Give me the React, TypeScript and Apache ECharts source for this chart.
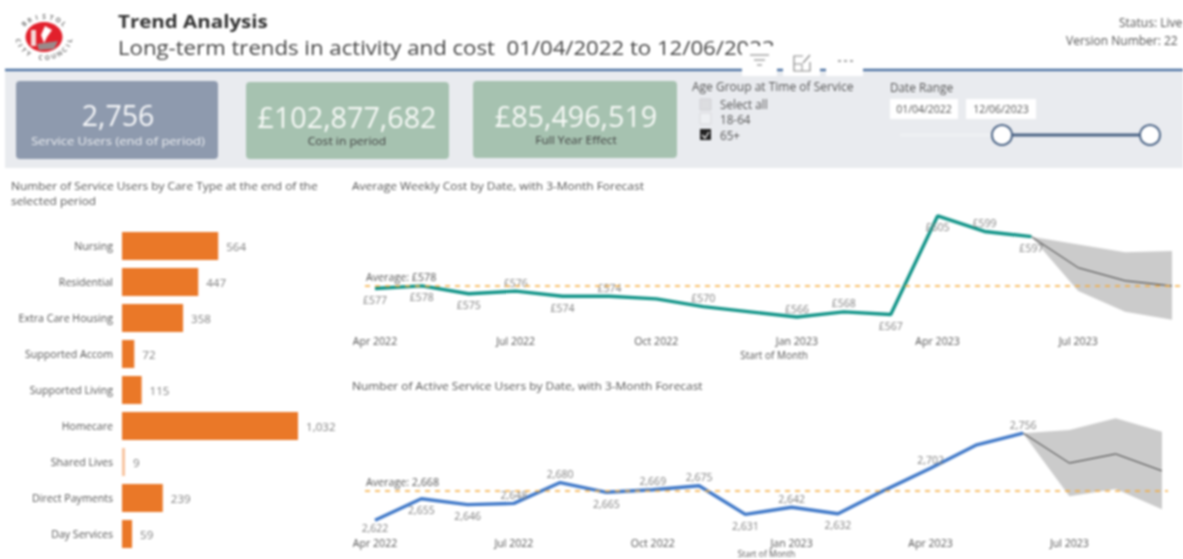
import React, { useEffect, useRef } from "react";
import * as echarts from "echarts";

const FONT = "'Open Sans', sans-serif";

const careTypes = ["Nursing", "Residential", "Extra Care Housing", "Supported Accom", "Supported Living", "Homecare", "Shared Lives", "Direct Payments", "Day Services"];
const careUsers = [564, 447, 358, 72, 115, 1032, 9, 239, 59];

const months = ["Apr 2022", "May 2022", "Jun 2022", "Jul 2022", "Aug 2022", "Sep 2022", "Oct 2022", "Nov 2022", "Dec 2022", "Jan 2023", "Feb 2023", "Mar 2023", "Apr 2023", "May 2023", "Jun 2023", "Jul 2023", "Aug 2023", "Sep 2023"];
const monthTicks = [0, 3, 6, 9, 12, 15];
const forecastMonths = [14, 15, 16, 17];

const weeklyCost = [577, 578, 575, 576, 574, 574, 573, 570, 568, 566, 568, 567, 605, 599, 597];
const weeklyCostLabelled = [1, 1, 1, 1, 1, 1, 0, 1, 0, 1, 1, 1, 1, 1, 1];
const weeklyCostSide = ["b", "b", "b", "t", "b", "t", "t", "t", "t", "t", "t", "b", "b", "t", "b"];
const costForecast = [597, 585, 580, 578];
const costUpper = [597, 594, 591, 591.5];
const costLower = [597, 576, 568, 565];
const costAverage = 578;

const activeUsers = [2622, 2655, 2646, 2648, 2680, 2665, 2669, 2675, 2631, 2642, 2632, 2668, 2702, 2738, 2756];
const activeUsersLabelled = [1, 1, 1, 1, 1, 1, 1, 1, 1, 1, 1, 0, 1, 0, 1];
const activeUsersSide = ["n", "b", "b", "t", "t", "b", "t", "t", "b", "t", "b", "t", "t", "t", "t"];
const usersForecast = [2756, 2710, 2724, 2698];
const usersUpper = [2756, 2761, 2779, 2758];
const usersLower = [2756, 2659, 2670, 2639];
const usersAverage = 2668;

const gbp = (v: number) => "£" + Math.round(v);
const num = (v: number) => Math.round(v).toLocaleString("en-GB");

function txt(x: number, y: number, text: string, size: number, fill: string, extra: any = {}, sx = 1) {
  return {
    type: "text", x, y, z: 5, scaleX: sx,
    style: { text, fontSize: size, fill, fontFamily: FONT, verticalAlign: "middle", ...extra },
  };
}
function box(x: number, y: number, w: number, h: number, fill: string, extra: any = {}) {
  return { type: "rect", z: 5, shape: { x, y, width: w, height: h, r: extra.r || 0 }, style: { fill, stroke: extra.stroke, lineWidth: extra.lineWidth || 0 } };
}
function seg(x1: number, y1: number, x2: number, y2: number, stroke: string, lineWidth = 1, z = 6) {
  return { type: "line", z, shape: { x1, y1, x2, y2 }, style: { stroke, lineWidth } };
}

function logo() {
  const cx = 44, cy = 37, out: any[] = [];
  const ring = (word: string, start: number, end: number, bottom: boolean) => {
    word.split("").forEach((ch, i) => {
      const a = start + ((end - start) * i) / (word.length - 1);
      const rad = (a * Math.PI) / 180;
      out.push({
        type: "text", z: 6, x: cx + 26 * Math.cos(rad), y: cy + 20.5 * Math.sin(rad),
        rotation: bottom ? -((a - 90) * Math.PI) / 180 : -((a + 90) * Math.PI) / 180,
        style: { text: ch, fontSize: 6.5, fontWeight: 700, fill: "#777", fontFamily: FONT, align: "center", verticalAlign: "middle" },
      });
    });
  };
  ring("BRISTOL", -140, -40, false);
  ring("CITY COUNCIL", 170, 10, true);
  out.push({ type: "ellipse", z: 6, shape: { cx, cy, rx: 18.5, ry: 15 }, style: { fill: "#e2202c" } });
  out.push({ type: "polygon", z: 7, shape: { points: [[45, 26], [52, 30], [47, 37], [44, 43], [41, 35]] }, style: { fill: "#fff" } });
  out.push({ type: "rect", z: 7, shape: { x: 31, y: 30, width: 5, height: 16 }, style: { fill: "#f6d8d8" } });
  out.push({ type: "polygon", z: 7, shape: { points: [[37, 44], [58, 41], [54, 49], [39, 50]] }, style: { fill: "#9a8a8a" } });
  return out;
}

function chrome() {
  return [
    ...logo(),
    txt(118, 21, "Trend Analysis", 18, "#333", { fontWeight: 700 }, 1.14),
    txt(118, 47, "Long-term trends in activity and cost  01/04/2022 to 12/06/2023", 20, "#444", {}, 1.11),
    txt(1119, 22, "Status: Live", 12, "#555"),
    txt(1066, 40, "Version Number: 22", 12, "#555"),

    seg(5, 70, 1183, 70, "#4a6fa0", 2.5, 5),
    box(5, 72, 1178, 96, "#e9ebef"),

    box(742, 46, 35, 30, "#fff"),
    box(783, 46, 37, 30, "#fff"),
    box(826, 46, 37, 30, "#fff"),
    box(777, 46, 6, 22, "#fff"),
    box(820, 46, 6, 22, "#fff"),
    seg(750, 55, 769, 55, "#777"),
    seg(754, 60, 765, 60, "#777"),
    seg(757, 65, 762, 65, "#777"),
    { type: "polyline", z: 6, shape: { points: [[803, 56], [794, 56], [794, 71], [810, 71], [810, 62]] }, style: { fill: "none", stroke: "#888", lineWidth: 1.2 } },
    seg(803, 63, 810, 55, "#888", 1.2),
    seg(794, 64, 802, 64, "#888", 1),
    seg(802, 64, 802, 71, "#888", 1),
    seg(838, 61, 841, 61, "#888", 1.5),
    seg(844, 61, 847, 61, "#888", 1.5),
    seg(850, 61, 853, 61, "#888", 1.5),

    box(16, 81, 202, 78, "#8e9aae", { r: 4 }),
    txt(118, 115, "2,756", 28.5, "#f6f7f9", { align: "center" }),
    txt(118, 141, "Service Users (end of period)", 11.4, "#eef0f3", { align: "center" }, 1.14),
    box(246, 82, 203, 77, "#a6c2b0", { r: 4 }),
    txt(347, 116, "£102,877,682", 28.7, "#f6f9f6", { align: "center" }),
    txt(347, 141, "Cost in period", 11, "#3d3d3d", { align: "center" }, 1.1),
    box(473, 81, 204, 77, "#a6c2b0", { r: 4 }),
    txt(576, 115, "£85,496,519", 28.7, "#f6f9f6", { align: "center" }),
    txt(576, 140, "Full Year Effect", 11, "#3d3d3d", { align: "center" }, 1.08),

    txt(692, 86, "Age Group at Time of Service", 12, "#555"),
    box(700, 99, 11, 11, "#dcdde0", { stroke: "#d0d0d4", lineWidth: 1 }),
    txt(720, 104, "Select all", 11.7, "#555"),
    box(700, 113, 11, 11, "#eef0f3", { stroke: "#d8d8dc", lineWidth: 1 }),
    txt(720, 119, "18-64", 11.7, "#555"),
    box(700, 129, 11, 11, "#222"),
    { type: "polyline", z: 7, shape: { points: [[702, 135], [705, 138], [709, 132]] }, style: { fill: "none", stroke: "#fff", lineWidth: 1.2 } },
    txt(720, 135, "65+", 11.7, "#555"),

    txt(890, 87, "Date Range", 11.8, "#555"),
    box(890, 99, 68, 20, "#fff"),
    txt(924, 109, "01/04/2022", 10.5, "#555", { align: "center" }),
    box(966, 99, 70, 20, "#fff"),
    txt(1001, 109, "12/06/2023", 10.5, "#555", { align: "center" }),
    seg(900, 135, 1002, 135, "#f0f1f3", 2.5),
    seg(1002, 135, 1150, 135, "#4a6385", 3),
    { type: "circle", z: 7, shape: { cx: 1002, cy: 135, r: 10 }, style: { fill: "#fff", stroke: "#4a6385", lineWidth: 2 } },
    { type: "circle", z: 7, shape: { cx: 1150, cy: 135, r: 10 }, style: { fill: "#fff", stroke: "#4a6385", lineWidth: 2 } },

    txt(11, 186, "Number of Service Users by Care Type at the end of the", 10.8, "#555", {}, 1.1),
    txt(11, 201, "selected period", 10.8, "#555", {}, 1.1),
    txt(352, 186, "Average Weekly Cost by Date, with 3-Month Forecast", 10.8, "#555", {}, 1.105),
    txt(352, 386, "Number of Active Service Users by Date, with 3-Month Forecast", 10.8, "#555", {}, 1.105),
  ];
}

const labelDistance: Record<string, number> = { t: 3, b: 6, n: 2 };

function trendSeries(idx: number, name: string, values: number[], shown: number[], side: string[], color: string, fmt: (v: number) => string, avg: number, avgText: string, forecast: number[], upper: number[], lower: number[]) {
  const base = { xAxisIndex: idx, yAxisIndex: idx, silent: true };
  return [
    {
      ...base, type: "custom", name: name + " range", z: 2, clip: false,
      data: forecastMonths.map((m, i) => [m, lower[i], upper[i]]),
      encode: { x: 0, y: [1, 2] },
      renderItem: (params: any, api: any) => {
        if (params.dataIndex !== 0) return null;
        const top = forecastMonths.map((m, i) => api.coord([m, upper[i]]));
        const bottom = forecastMonths.map((m, i) => api.coord([m, lower[i]])).reverse();
        return { type: "polygon", shape: { points: [...top, ...bottom] }, style: { fill: "#cbcbcb" } };
      },
    },
    {
      ...base, type: "line", name: name + " forecast", symbol: "none", z: 3,
      data: forecast.map((v, i) => [forecastMonths[i], v]),
      lineStyle: { color: "#3a3a3a", width: 1 },
    },
    {
      ...base, type: "line", name, z: 4,
      symbol: "circle", symbolSize: 0, showSymbol: true, showAllSymbol: true,
      data: values.map((v, i) => ({
        value: [i, v],
        label: {
          show: !!shown[i],
          position: side[i] === "t" ? "top" : "bottom",
          distance: labelDistance[side[i]],
          formatter: () => fmt(v),
        },
      })),
      itemStyle: { color },
      lineStyle: { color, width: 3.4 },
      label: { show: true, color: "#808080", fontSize: 10.5, fontFamily: FONT },
      labelLayout: { hideOverlap: false },
      markLine: {
        silent: true, symbol: "none", animation: false, z: 5,
        lineStyle: { color: "#f5ab3c", type: [5, 5], width: 1.5 },
        data: [{ yAxis: avg }],
        label: {
          formatter: avgText, position: "insideStartTop", color: "#555", fontSize: 10.7, fontFamily: FONT,
          distance: [1, 3],
        },
      },
    },
  ];
}

function monthAxis(gridIndex: number, min: number, max: number, gap: number, margin: number, nameSize: number) {
  return {
    type: "value", gridIndex, min, max, splitLine: { show: false },
    axisLine: { show: false }, axisTick: { show: false },
    name: "Start of Month", nameLocation: "middle", nameGap: gap,
    nameTextStyle: { color: "#555", fontSize: nameSize, fontFamily: FONT },
    axisLabel: {
      customValues: monthTicks, margin, color: "#555", fontSize: 10.6, fontFamily: FONT,
      showMinLabel: true, showMaxLabel: true, hideOverlap: false,
      formatter: (v: number) => months[v] ?? "",
    },
  };
}

export default function App() {
  const ref = useRef<HTMLDivElement>(null);
  useEffect(() => {
    document.body.style.margin = "0";
    document.body.style.overflow = "hidden";
    const chart = echarts.init(ref.current!, null, { renderer: "svg" });
    chart.setOption({
      animation: false,
      backgroundColor: "#ffffff",
      textStyle: { fontFamily: FONT },
      graphic: { elements: chrome() },
      grid: [
        { left: 122, top: 228, width: 176, height: 324, outerBoundsMode: "none" },
        { left: 365, right: 0, top: 190, height: 140, outerBoundsMode: "none" },
        { left: 365, width: 803, top: 400, height: 130, outerBoundsMode: "none" },
      ],
      xAxis: [
        { type: "value", gridIndex: 0, min: 0, max: 1032, show: false },
        monthAxis(1, -0.2128, 17.234, 20, 5, 10),
        monthAxis(2, -0.216, 17.13, 18.5, 7, 8.5),
      ],
      yAxis: [
        {
          type: "category", gridIndex: 0, data: careTypes, inverse: true,
          axisLine: { show: false }, axisTick: { show: false },
          axisLabel: { color: "#555", fontSize: 10.6, fontFamily: FONT, margin: 9 },
        },
        { type: "value", gridIndex: 1, min: 561, max: 615, show: false },
        { type: "value", gridIndex: 2, min: 2607, max: 2807, show: false },
      ],
      series: [
        {
          type: "bar", xAxisIndex: 0, yAxisIndex: 0, barWidth: 28, silent: true,
          data: careUsers.map((v) => ({
            value: v,
            itemStyle: { color: v < 20 ? "#f8c4a0" : "#ea7828" },
          })),
          barMinHeight: 3,
          label: {
            show: true, position: "right", distance: 8, color: "#808080", fontSize: 11.6, fontFamily: FONT,
            formatter: (p: any) => num(p.value),
          },
        },
        ...trendSeries(1, "Average Weekly Cost", weeklyCost, weeklyCostLabelled, weeklyCostSide, "#0f9387", gbp, costAverage, "Average: £578", costForecast, costUpper, costLower),
        ...trendSeries(2, "Active Service Users", activeUsers, activeUsersLabelled, activeUsersSide, "#3f78c8", num, usersAverage, "Average: 2,668", usersForecast, usersUpper, usersLower),
      ],
    });
    return () => chart.dispose();
  }, []);
  return (
    <div
      ref={ref}
      style={{ position: "fixed", left: 0, top: 0, width: 1183, height: 559, filter: "blur(0.8px)" }}
    />
  );
}
